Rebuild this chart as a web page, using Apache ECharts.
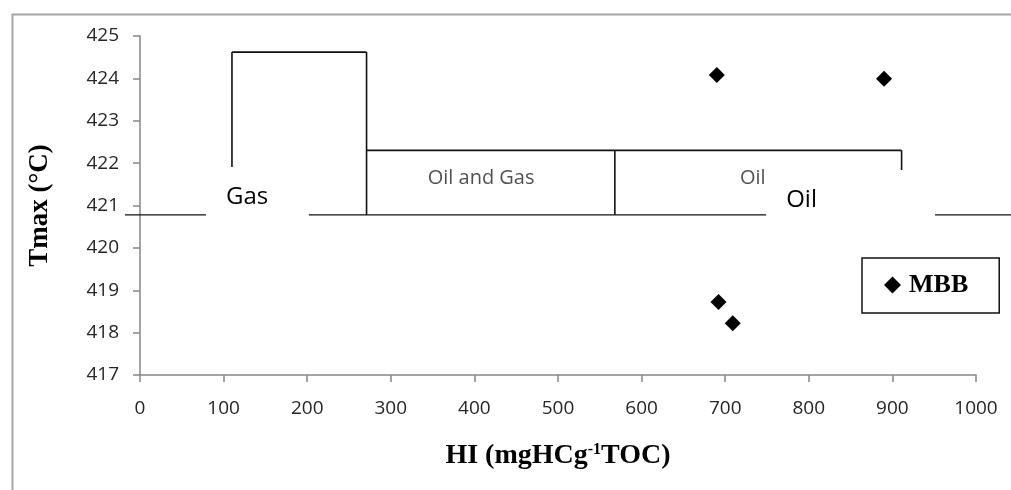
<!DOCTYPE html>
<html>
<head>
<meta charset="utf-8">
<script src="https://cdn.jsdelivr.net/npm/echarts@6/dist/echarts.min.js"></script>
<style>
html,body{margin:0;padding:0;background:#fff;}
#chart{width:1011px;height:490px;}
</style>
</head>
<body>
<div id="chart"></div>
<script>
// ---- data ----
const seriesName = 'MBB';
const hiValues = [690, 890, 692, 709];
const tmaxValues = [424.08, 423.99, 418.72, 418.22];

const xMin = 0, xMax = 1000, xStep = 100;
const yMin = 417, yMax = 425, yStep = 1;

// zone outlines (HI, Tmax)
const gasZone = [[110, 420.78], [110, 424.62], [271, 424.62], [271, 420.78]];
const oilGasZone = [[271, 422.30], [568, 422.30], [568, 420.78]];
const oilZone = [[568, 422.30], [911, 422.30], [911, 420.78]];
const baseLine = [[-18, 420.78], [1050, 420.78]];

// zone labels inside the boxes
const zoneLabelText = ['Oil and Gas', 'Oil'];
const zoneLabelHI = [408, 733];
const zoneLabelTmax = [421.65, 421.65];

// white callout boxes (HI from, Tmax top, HI to, Tmax bottom)
const calloutText = ['Gas', 'Oil'];
const calloutBoxes = [[79, 421.91, 202, 420.54], [749, 421.84, 951, 420.54]];

const points = hiValues.map((h, i) => [h, tmaxValues[i]]);
const zoneLabels = zoneLabelText.map((t, i) => ({value: [zoneLabelHI[i], zoneLabelTmax[i]], name: t}));
const callouts = calloutBoxes.map((b, i) => b.concat([i]));

// split polylines into segments [x0, y0, x1, y1, width]
function segmentsOf(poly, w) {
  const out = [];
  for (let i = 0; i < poly.length - 1; i++) {
    out.push([poly[i][0], poly[i][1], poly[i + 1][0], poly[i + 1][1], w]);
  }
  return out;
}
const segments = [].concat(
  segmentsOf(baseLine, 1.2),
  segmentsOf(gasZone, 1.6),
  segmentsOf(oilGasZone, 1.6),
  segmentsOf(oilZone, 1.6)
);

const chart = echarts.init(document.getElementById('chart'));

const option = {
  animation: false,
  backgroundColor: '#fff',
  graphic: [{
    type: 'rect', left: 10, top: 12, silent: true,
    shape: {width: 1200, height: 700},
    style: {fill: 'none', stroke: '#a6a6a6', lineWidth: 2}
  }],
  grid: {left: 140, right: 35, top: 36, bottom: 115, containLabel: false},
  legend: {
    data: [seriesName],
    left: 862, top: 258,
    padding: [14, 31, 15, 22],
    borderColor: '#111', borderWidth: 1.5,
    backgroundColor: '#fff',
    icon: 'diamond', itemWidth: 17, itemHeight: 17,
    textStyle: {fontFamily: 'Liberation Serif', fontWeight: 'bold', fontSize: 26, color: '#000', padding: [0, 0, 0, 3]}
  },
  xAxis: {
    type: 'value', min: xMin, max: xMax, interval: xStep,
    name: '{b|HI (mgHCg}{s|-1}{b|TOC)}',
    nameLocation: 'middle', nameGap: 67,
    nameTextStyle: {
      rich: {
        b: {fontFamily: 'Liberation Serif', fontWeight: 'bold', fontSize: 28, color: '#000'},
        s: {fontFamily: 'Liberation Serif', fontWeight: 'bold', fontSize: 16, color: '#000', verticalAlign: 'top'}
      }
    },
    axisLine: {show: true, lineStyle: {color: '#868686', width: 1.5}},
    axisTick: {show: true, length: 7, inside: false, lineStyle: {color: '#868686', width: 1.5}},
    axisLabel: {show: true, margin: 24, fontFamily: 'Open Sans', fontSize: 19, color: '#262626',
      hideOverlap: false, formatter: v => String(v)},
    splitLine: {show: false}
  },
  yAxis: {
    type: 'value', min: yMin, max: yMax, interval: yStep,
    name: 'Tmax (°C)',
    nameLocation: 'middle', nameGap: 86, nameRotate: 90,
    nameTextStyle: {fontFamily: 'Liberation Serif', fontWeight: 'bold', fontSize: 27, color: '#000'},
    axisLine: {show: true, lineStyle: {color: '#868686', width: 1.5}},
    axisTick: {show: true, length: 7, inside: false, lineStyle: {color: '#868686', width: 1.5}},
    axisLabel: {show: true, margin: 21, fontFamily: 'Open Sans', fontSize: 19, color: '#262626',
      hideOverlap: false, formatter: v => String(v)},
    splitLine: {show: false}
  },
  series: [
    {
      type: 'custom', data: segments, silent: true, z: 2, clip: false,
      renderItem: function (params, api) {
        const a = api.coord([api.value(0), api.value(1)]);
        const b = api.coord([api.value(2), api.value(3)]);
        return {
          type: 'line',
          shape: {x1: a[0], y1: a[1], x2: b[0], y2: b[1]},
          style: {stroke: '#111', lineWidth: api.value(4)}
        };
      }
    },
    {
      type: 'scatter', data: zoneLabels, symbolSize: 0, silent: true, z: 3,
      label: {show: true, position: 'inside', formatter: p => p.name,
        fontFamily: 'Open Sans', fontSize: 20, color: '#262626'}
    },
    {
      type: 'custom', data: callouts, silent: true, z: 5,
      renderItem: function (params, api) {
        const p0 = api.coord([api.value(0), api.value(1)]);
        const p1 = api.coord([api.value(2), api.value(3)]);
        const idx = api.value(4);
        return {
          type: 'group',
          children: [{
            type: 'rect',
            shape: {x: p0[0], y: p0[1], width: p1[0] - p0[0], height: p1[1] - p0[1]},
            style: {fill: '#fff', stroke: null}
          }, {
            type: 'text',
            style: {x: p0[0] + 20, y: p0[1] + 30, text: calloutText[idx],
              font: '24px "Open Sans"', fill: '#000', verticalAlign: 'middle', align: 'left'}
          }]
        };
      }
    },
    {
      name: seriesName, type: 'scatter', data: points, z: 10,
      symbol: 'diamond', symbolSize: 16,
      itemStyle: {color: '#000', opacity: 1}
    }
  ]
};
chart.setOption(option);
</script>
</body>
</html>
